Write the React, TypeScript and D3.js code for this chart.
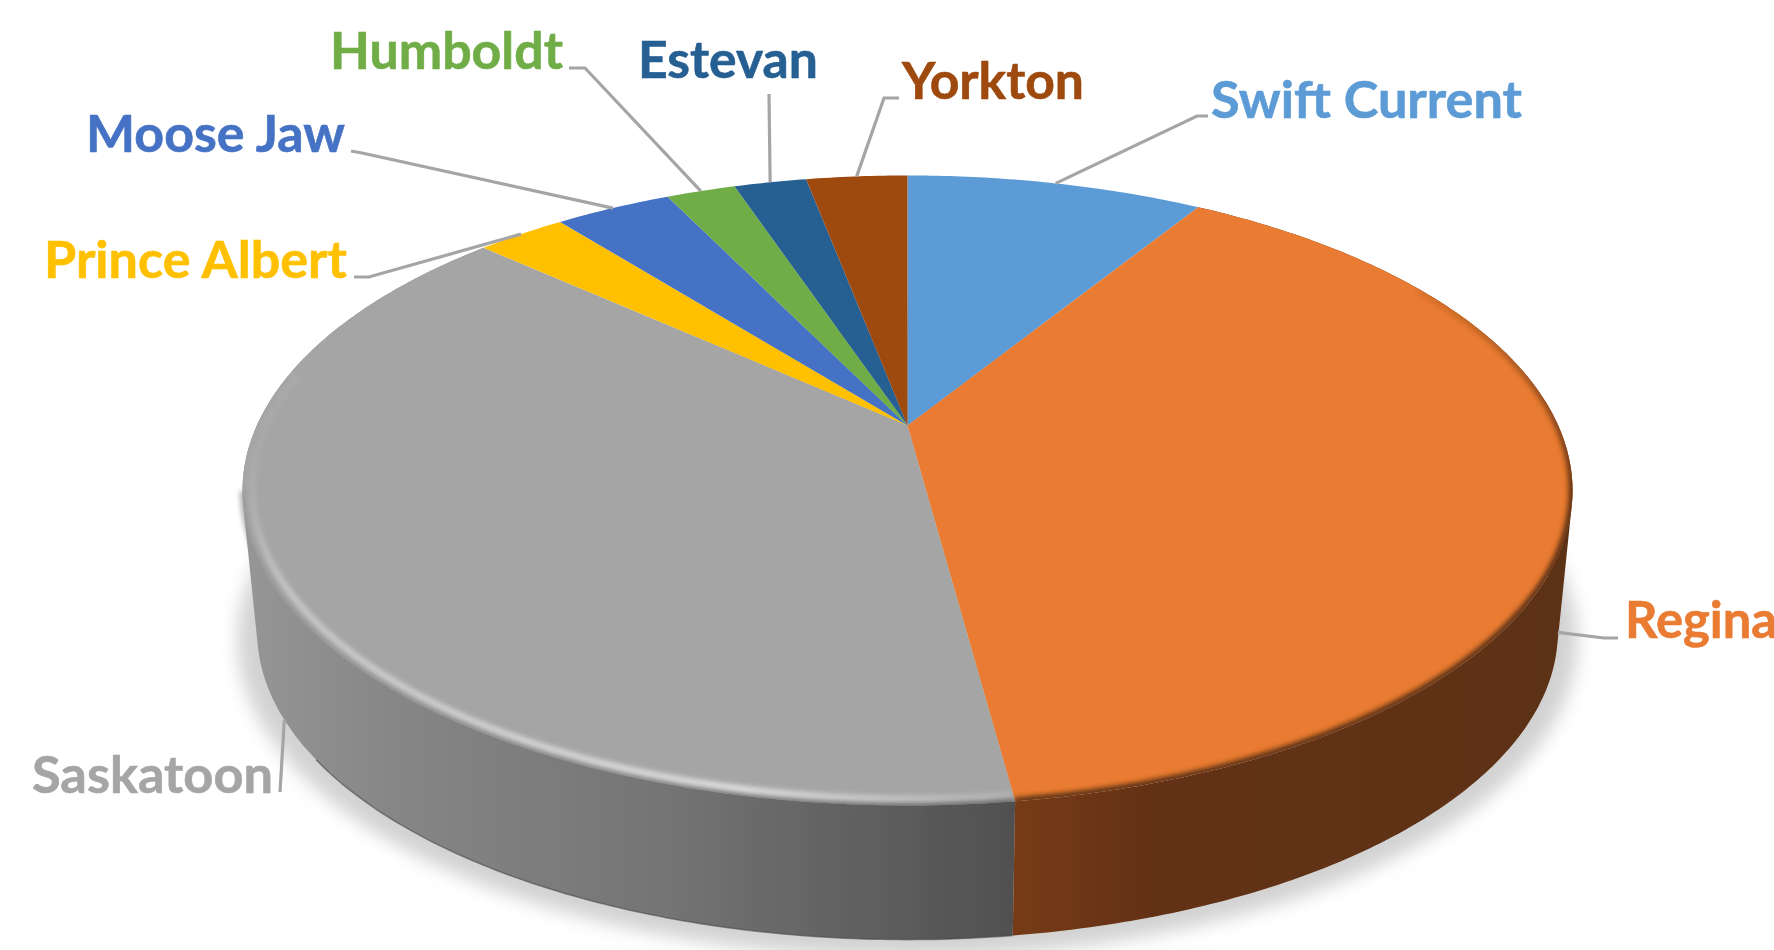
import React from "react";
import * as d3 from "d3";

const categories = ["Swift Current", "Regina", "Saskatoon", "Prince Albert", "Moose Jaw", "Humboldt", "Estevan", "Yorkton"];
const shares = [8.8, 39.1, 38.8, 2.65, 3.45, 2.05, 2.15, 3.0];
const colors = ["#5b9bd5", "#e97b31", "#a5a5a5", "#ffc000", "#4472c4", "#70ad47", "#255e91", "#9e480e"];

// label layout: [left x, baseline y, text width], elbow of the leader [x, y], leader's end at the label [x, y]
const labelBoxes = [
  [1211, 118, 311], [1625, 638, 152], [32, 793, 241], [44, 278, 303],
  [86, 152, 259], [330, 69, 233], [638, 78, 180], [902, 98.5, 182],
];
const elbows = [
  [1197, 116, 1208, 116], [1604, 638, 1618, 638], [280, 792, 280, 792], [369, 277, 354, 277],
  [362, 153, 351, 151], [585, 68, 569, 68], [769, 94, 769, 94], [884, 98, 899, 98],
];

const W = 1774, H = 950;
const CX = 907.5, CY = 425.5, A = 650.7, B = 301.6, K = 0.2063;
const DEPTH = 142.5, BASE = 0.978;

type P = [number, number];
function project(a: number, r = 1, depth = 0, s = 1): P {
  const u = r * Math.sin(a), v = r * Math.cos(a);
  const w = 1 + K * v;
  return [CX + (s * A * u) / w, CY + depth - (s * B * v) / w];
}
const line = d3.line<P>().x((d) => d[0]).y((d) => d[1]);
const samples = (a0: number, a1: number) => {
  const n = Math.max(2, Math.ceil(Math.abs(a1 - a0) * 90));
  return d3.range(n + 1).map((i) => a0 + ((a1 - a0) * i) / n);
};
const rimPts = (a0: number, a1: number, r = 1, depth = 0, s = 1) =>
  samples(a0, a1).map((a) => project(a, r, depth, s));

const arcs = d3.pie<number>().sort(null).value((d) => d)(shares);
const facePath = (a0: number, a1: number) => line([[CX, CY], ...rimPts(a0, a1)])! + "Z";
// the wall is the union of quads between the rims, all wound the same way
const wallPath = (a0: number, a1: number) => {
  const top = rimPts(a0, a1), bottom = rimPts(a0, a1, 1, DEPTH, BASE);
  return d3.range(top.length - 1).map((i) => {
    const q: P[] = [top[i], top[i + 1], bottom[i + 1], bottom[i]];
    if (d3.polygonArea(q) < 0) q.reverse();
    return line(q)! + "Z";
  }).join("");
};
const baseEllipse = (grow: number, dy: number) =>
  line(rimPts(0, Math.PI * 2, 1, DEPTH + dy, BASE * grow))! + "Z";

const rad = (deg: number) => (deg * Math.PI) / 180;
const regina = arcs[1], saskatoon = arcs[2];

export default function App() {
  return (
    <svg width={W} height={H} viewBox={`0 0 ${W} ${H}`}
      style={{ position: "absolute", left: 0, top: 0, display: "block", background: "#fff" }}>
      <defs>
        <filter id="soft" filterUnits="userSpaceOnUse" x="0" y="0" width={W} height={H}>
          <feGaussianBlur stdDeviation="0.7" />
        </filter>
        <filter id="shadow" filterUnits="userSpaceOnUse" x="0" y="0" width={W} height={H + 100}>
          <feGaussianBlur stdDeviation="9" />
        </filter>
        <filter id="b2" filterUnits="userSpaceOnUse" x="0" y="0" width={W} height={H}>
          <feGaussianBlur stdDeviation="2.6" />
        </filter>
        <linearGradient id="grayWall" gradientUnits="userSpaceOnUse" x1="242" x2="1016" y1="0" y2="0">
          <stop offset="0" stopColor="#969696" />
          <stop offset="0.2" stopColor="#868686" />
          <stop offset="0.55" stopColor="#747474" />
          <stop offset="1" stopColor="#505050" />
        </linearGradient>
        <linearGradient id="orangeWall" gradientUnits="userSpaceOnUse" x1="1016" x2="1572" y1="0" y2="0">
          <stop offset="0" stopColor="#763b14" />
          <stop offset="0.25" stopColor="#633113" />
          <stop offset="1" stopColor="#5c3012" />
        </linearGradient>
        <linearGradient id="hl" gradientUnits="userSpaceOnUse" x1="245" y1="440" x2="1016" y2="810">
          <stop offset="0" stopColor="#e0e0e0" stopOpacity="0" />
          <stop offset="0.12" stopColor="#e0e0e0" stopOpacity="0.6" />
          <stop offset="0.7" stopColor="#e6e6e6" stopOpacity="0.95" />
          <stop offset="1" stopColor="#e0e0e0" stopOpacity="0.2" />
        </linearGradient>
        <linearGradient id="edge" gradientUnits="userSpaceOnUse" x1="0" y1="260" x2="0" y2="500">
          <stop offset="0" stopColor="#5c3012" stopOpacity="0" />
          <stop offset="1" stopColor="#5c3012" stopOpacity="1" />
        </linearGradient>
        <clipPath id="clipGray"><path d={facePath(saskatoon.startAngle, saskatoon.endAngle)} /></clipPath>
        <clipPath id="clipOrange"><path d={facePath(regina.startAngle, regina.endAngle)} /></clipPath>
      </defs>

      <path d={baseEllipse(1.03, 6)} fill="#d2d2d2" filter="url(#shadow)" />

      <g filter="url(#soft)">
        <path d={wallPath(saskatoon.startAngle, saskatoon.endAngle)} fill="url(#grayWall)" />
        <path d={wallPath(regina.startAngle, regina.endAngle)} fill="url(#orangeWall)" />
        <path d={line(rimPts(saskatoon.startAngle, rad(235), 1, DEPTH, BASE))!} fill="none" stroke="#4a4a4a" strokeWidth="1.5" opacity="0.6" />

        {arcs.map((d, i) => (
          <path key={categories[i]} d={facePath(d.startAngle, d.endAngle)} fill={colors[i]} />
        ))}

        <path d={line(rimPts(saskatoon.startAngle, rad(258)))!} fill="none" stroke="url(#grayWall)" strokeWidth="4" filter="url(#b2)" />
        <g clipPath="url(#clipGray)">
          <path d={line(rimPts(saskatoon.startAngle, rad(280), 0.986))!} fill="none" stroke="url(#hl)" strokeWidth="6" filter="url(#b2)" />
        </g>
        <g clipPath="url(#clipOrange)">
          <path d={line(rimPts(rad(60), regina.endAngle))!} fill="none" stroke="url(#edge)" strokeWidth="8" filter="url(#b2)" />
        </g>

        {categories.map((c, i) => {
          const mid = (arcs[i].startAngle + arcs[i].endAngle) / 2;
          const onWall = shares[i] > 20;
          const start = onWall ? project(mid, 1, DEPTH, BASE) : project(mid);
          const [ex, ey, lx, ly] = elbows[i];
          const [x, y, w] = labelBoxes[i];
          return (
            <g key={c}>
              <polyline points={`${start[0]},${start[1]} ${ex},${ey} ${lx},${ly}`} fill="none" stroke="#a5a5a5" strokeWidth="3.2" />
              <text x={x} y={y} textLength={w} lengthAdjust="spacingAndGlyphs"
                fontFamily="Lato, 'Noto Sans', sans-serif" fontWeight="700" fontSize="52"
                fill={colors[i]} stroke={colors[i]} strokeWidth="0.6">{c}</text>
            </g>
          );
        })}
      </g>
    </svg>
  );
}
